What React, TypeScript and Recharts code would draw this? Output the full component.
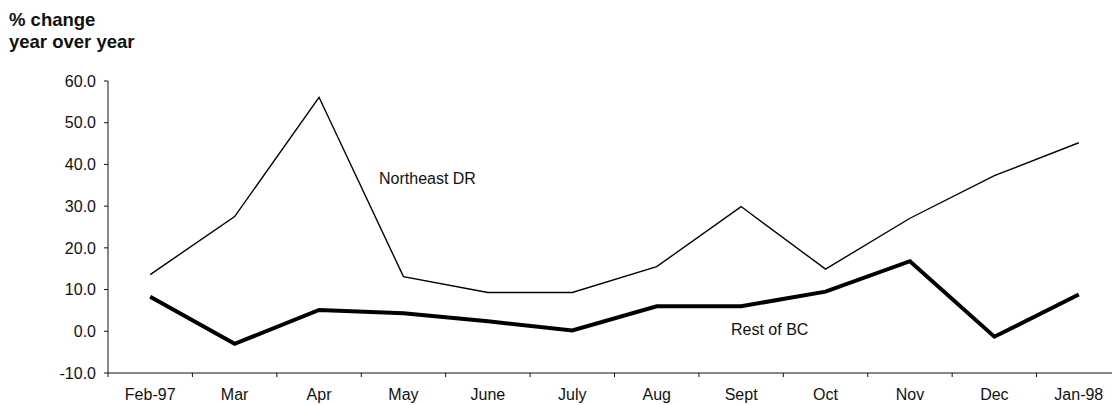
import React from 'react';
import { LineChart, Line, XAxis, YAxis } from 'recharts';

const categories = ['Feb-97', 'Mar', 'Apr', 'May', 'June', 'July', 'Aug', 'Sept', 'Oct', 'Nov', 'Dec', 'Jan-98'];
const northeastDR = [13.6, 27.5, 56.1, 13.1, 9.3, 9.3, 15.5, 29.9, 14.9, 27.1, 37.3, 45.2];
const restOfBC = [8.3, -3.0, 5.1, 4.3, 2.4, 0.2, 6.0, 6.0, 9.5, 16.8, -1.3, 8.8];
const yTicks = [-10, 0, 10, 20, 30, 40, 50, 60];

// x positions sit at category centres (i + 0.5) on a 0..12 numeric axis
const data = categories.map((name, i) => ({
  x: i + 0.5,
  name,
  northeast: northeastDR[i],
  rest: restOfBC[i],
}));
const xTicks = data.map(d => d.x);

const FONT = '"Liberation Sans", Arial, sans-serif';
const INK = '#111';

const W = 1112;
const H = 405;
const MARGIN = { top: 81, right: -9, bottom: 2, left: 48 };
const Y_AXIS_W = 60;
const PLOT_W = W - MARGIN.left - MARGIN.right - Y_AXIS_W;
const HALF_STEP = PLOT_W / categories.length / 2;

// category label with a boundary tick mark to its left
const XTick = (props: any) => {
  const { x, y, payload, index } = props;
  const axisY = y - 16;
  const label = categories[Math.floor(payload.value)];
  return (
    <g>
      <line x1={x - HALF_STEP} y1={axisY} x2={x - HALF_STEP} y2={axisY + 4} stroke={INK} strokeWidth={1} />
      {index === categories.length - 1 && (
        <line x1={x + HALF_STEP} y1={axisY} x2={x + HALF_STEP} y2={axisY + 4} stroke={INK} strokeWidth={1} />
      )}
      <text x={x} y={y} dy="0.71em" textAnchor="middle" fill={INK} fontSize={16} fontFamily={FONT}>
        {label}
      </text>
    </g>
  );
};

export default function App() {
  return (
    <div style={{ position: 'absolute', left: 0, top: 0, width: W, height: H, background: '#fff', overflow: 'hidden' }}>
      <div
        style={{
          position: 'absolute',
          left: 9,
          top: 9,
          fontFamily: FONT,
          fontWeight: 'bold',
          fontSize: 18.5,
          lineHeight: '21.5px',
          color: INK,
        }}
      >
        % change
        <br />
        year over year
      </div>
      <LineChart width={W} height={H} data={data} margin={MARGIN}>
        <XAxis
          dataKey="x"
          type="number"
          domain={[0, 12]}
          ticks={xTicks}
          interval={0}
          height={30}
          tickLine={false}
          tickSize={4}
          tickMargin={12}
          axisLine={{ stroke: INK, strokeWidth: 1 }}
          tick={<XTick />}
        />
        <YAxis
          type="number"
          domain={[-10, 60]}
          ticks={yTicks}
          interval={0}
          width={Y_AXIS_W}
          tickSize={4}
          tickMargin={8}
          axisLine={{ stroke: INK, strokeWidth: 1 }}
          tickLine={{ stroke: INK, strokeWidth: 1 }}
          tick={{ fill: INK, fontSize: 16, fontFamily: FONT }}
          tickFormatter={(v: number) => v.toFixed(1)}
        />
        <Line
          type="linear"
          dataKey="northeast"
          stroke="#000"
          strokeWidth={1.4}
          dot={false}
          activeDot={false}
          isAnimationActive={false}
        />
        <Line
          type="linear"
          dataKey="rest"
          stroke="#000"
          strokeWidth={4}
          dot={false}
          activeDot={false}
          isAnimationActive={false}
        />
      </LineChart>
      <div style={{ position: 'absolute', left: 379, top: 170, fontFamily: FONT, fontSize: 16, color: INK, whiteSpace: 'nowrap' }}>
        Northeast DR
      </div>
      <div style={{ position: 'absolute', left: 731, top: 321, fontFamily: FONT, fontSize: 16, color: INK, whiteSpace: 'nowrap' }}>
        Rest of BC
      </div>
    </div>
  );
}
